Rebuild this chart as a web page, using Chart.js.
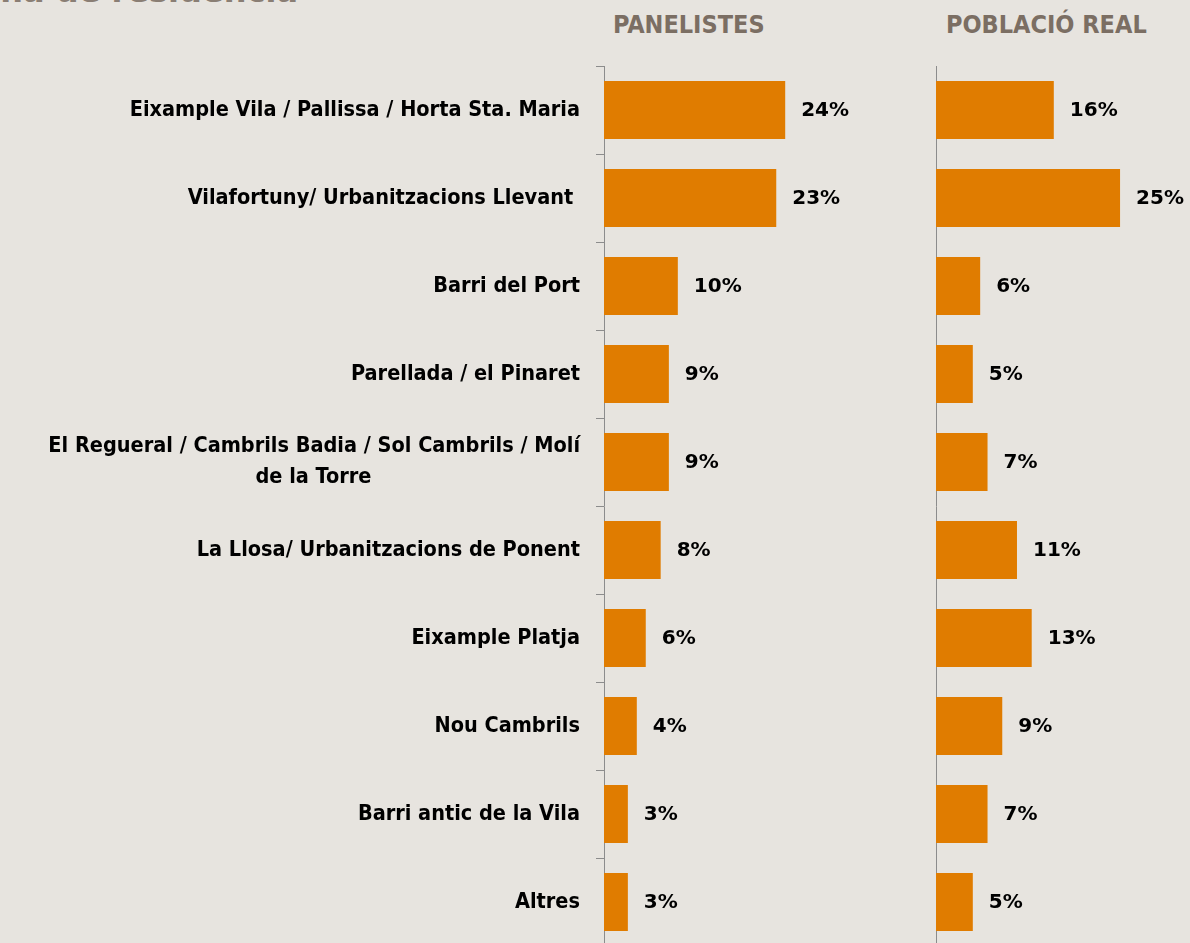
<!DOCTYPE html>
<html lang="ca">
<head>
    <meta charset="UTF-8">
    <title>Zona de residència</title>
    <script src="https://cdn.jsdelivr.net/npm/chart.js"></script>
    <style>
        body { margin: 0; width: 1190px; height: 943px; overflow: hidden; position: relative; background: #E7E4DF; font-family: "DejaVu Sans", sans-serif; }
        .title { position: absolute; right: 892px; top: -28px; font: bold 32px "DejaVu Sans", sans-serif; color: #8A7E74; white-space: nowrap; }
        .head { position: absolute; top: 12px; font: bold 25px "DejaVu Sans Condensed", "DejaVu Sans", sans-serif; color: #7B6E63; line-height: 1; white-space: nowrap; }
        .box { position: absolute; top: 56px; height: 900px; }
    </style>
</head>
<body>
<div class="title">Zona de residència</div>
<div class="head" style="left:613px">PANELISTES</div>
<div class="head" style="left:946px">POBLACIÓ REAL</div>

<div class="box" style="left:0; width:906px"><canvas id="panelChart"></canvas></div>
<div class="box" style="left:906px; width:284px"><canvas id="realChart"></canvas></div>

<script>
    const labelFont = { family: '"DejaVu Sans Condensed", "DejaVu Sans"', size: 21.5, weight: 'bold', lineHeight: 1.45 };

    // second line of a wrapped label, padded so it sits centred under the first
    function centerUnder(first, second) {
        const ctx = document.createElement('canvas').getContext('2d');
        ctx.font = `bold ${labelFont.size}px ${labelFont.family}`;
        const gap = (ctx.measureText(first).width - ctx.measureText(second).width) / 2;
        return second + ' '.repeat(Math.max(0, Math.round(gap / ctx.measureText(' ').width)));
    }

    const zones = [
        'Eixample Vila / Pallissa / Horta Sta. Maria',
        'Vilafortuny/ Urbanitzacions Llevant ',
        'Barri del Port',
        'Parellada / el Pinaret',
        ['El Regueral / Cambrils Badia / Sol Cambrils / Molí',
            centerUnder('El Regueral / Cambrils Badia / Sol Cambrils / Molí', 'de la Torre')],
        'La Llosa/ Urbanitzacions de Ponent',
        'Eixample Platja',
        'Nou Cambrils',
        'Barri antic de la Vila',
        'Altres'
    ];
    const panelistes = [24.3, 23.1, 9.9, 8.7, 8.7, 7.6, 5.6, 4.4, 3.2, 3.2];
    const poblacioReal = [16, 25, 6, 5, 7, 11, 13, 9, 7, 5];

    const orange = '#E07C00';
    const axisGray = '#8C8C8C';

    const valueLabels = {
        id: 'valueLabels',
        afterDatasetsDraw(chart) {
            const ctx = chart.ctx;
            const values = chart.data.datasets[0].data;
            ctx.save();
            ctx.font = 'bold 20px "DejaVu Sans"';
            ctx.fillStyle = '#000';
            ctx.textAlign = 'left';
            ctx.textBaseline = 'middle';
            chart.getDatasetMeta(0).data.forEach((bar, i) => {
                ctx.fillText(Math.round(values[i]) + '%', bar.x + 16, bar.y + 1);
            });
            ctx.restore();
        }
    };

    function makeChart(id, values, max, axisWidth, showLabels) {
        return new Chart(document.getElementById(id), {
            type: 'bar',
            data: {
                labels: zones,
                datasets: [{
                    data: values,
                    backgroundColor: orange,
                    barPercentage: 0.66,
                    categoryPercentage: 1
                }]
            },
            options: {
                indexAxis: 'y',
                animation: false,
                responsive: true,
                maintainAspectRatio: false,
                layout: { padding: { top: 10, bottom: 10, left: 0, right: 0 } },
                plugins: { legend: { display: false }, tooltip: { enabled: false } },
                scales: {
                    x: { display: false, min: 0, max: max },
                    y: {
                        afterFit: scale => {
                            scale.width = axisWidth;
                            scale.paddingTop = 0;
                            scale.paddingBottom = 0;
                        },
                        border: { display: true, color: axisGray, width: 1 },
                        grid: {
                            display: true,
                            offset: true,
                            drawOnChartArea: false,
                            drawTicks: showLabels,
                            tickLength: 8,
                            color: axisGray
                        },
                        ticks: {
                            display: showLabels,
                            padding: 16,
                            color: '#000',
                            font: labelFont
                        }
                    }
                }
            },
            plugins: [valueLabels]
        });
    }

    makeChart('panelChart', panelistes, 40.5, 604, true);
    makeChart('realChart', poblacioReal, 34.5, 30, false);
</script>
</body>
</html>
